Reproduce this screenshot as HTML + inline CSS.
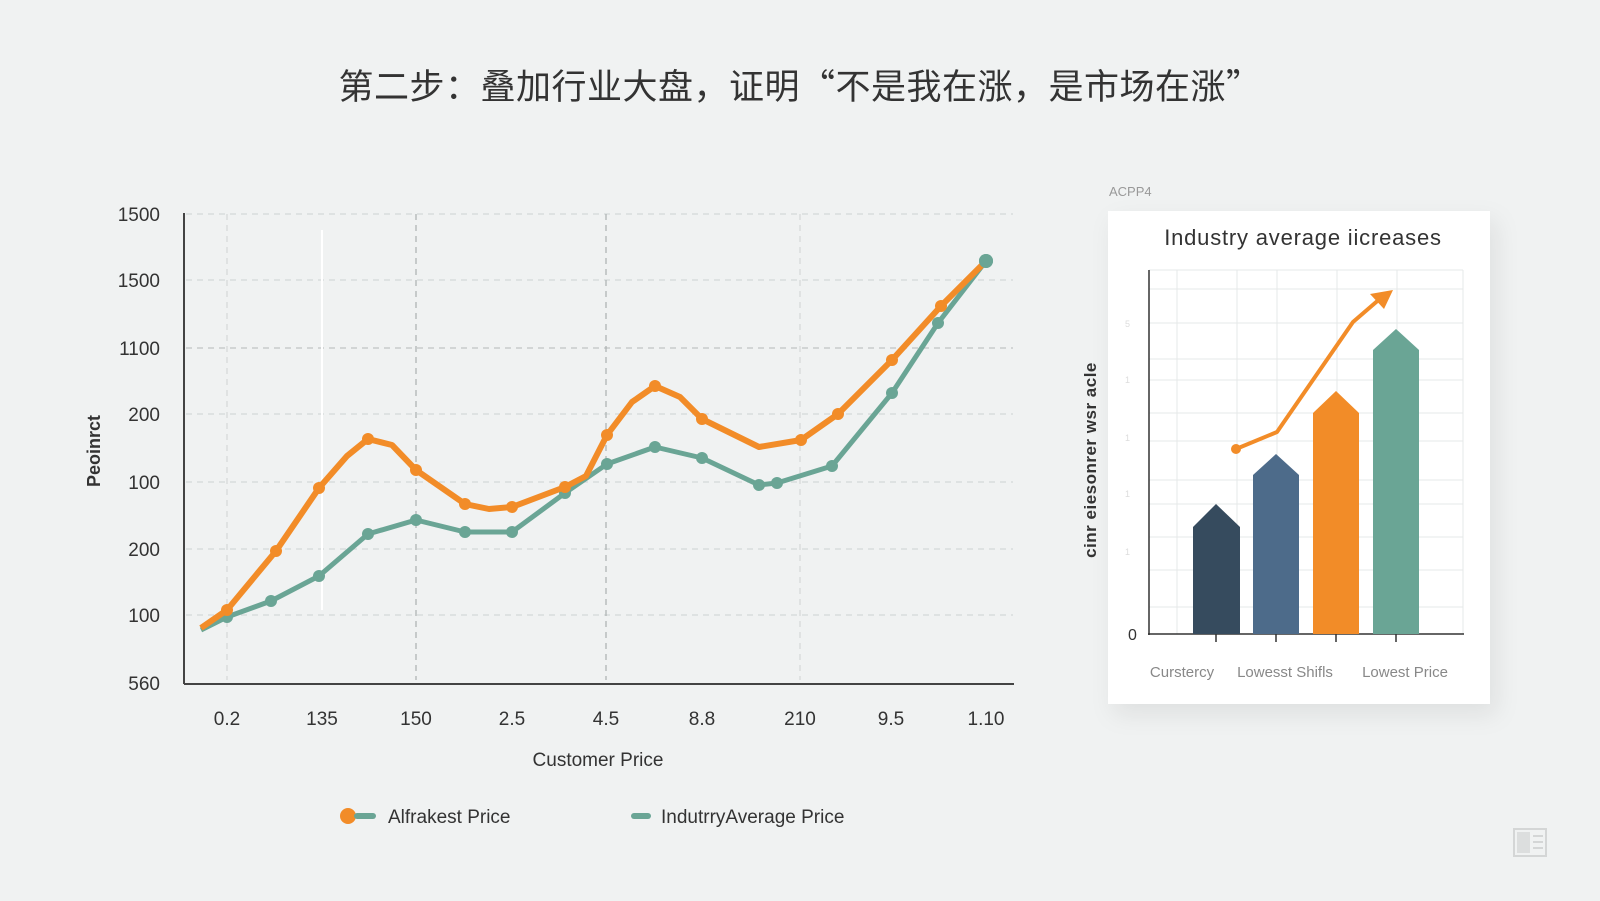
<!DOCTYPE html>
<html><head><meta charset="utf-8"><style>
html,body{margin:0;padding:0;}
body{width:1600px;height:896px;background:#f0f2f2;overflow:hidden;font-family:"Liberation Sans","Noto Sans CJK SC",sans-serif;}
</style></head><body>
<svg width="1600" height="896" viewBox="0 0 1600 896" xmlns="http://www.w3.org/2000/svg" font-family="Liberation Sans, Noto Sans CJK SC, sans-serif">
<defs>
<filter id="sh" x="-20%" y="-20%" width="140%" height="140%"><feDropShadow dx="6" dy="10" stdDeviation="12" flood-color="#000" flood-opacity="0.08"/></filter>
</defs>
<rect width="1600" height="896" fill="#f0f2f2"/>
<text x="800" y="99" text-anchor="middle" font-size="35" fill="#333" letter-spacing="0.5" font-family="Noto Sans CJK SC, sans-serif">第二步：叠加行业大盘，证明“不是我在涨，是市场在涨”</text>

<g stroke="#d4d8d8" stroke-width="1.2" stroke-dasharray="6,5">
<line x1="186" y1="214" x2="1013" y2="214"/>
<line x1="186" y1="280" x2="1013" y2="280"/>
<line x1="186" y1="348" x2="1013" y2="348" stroke="#bfc4c4"/>
<line x1="186" y1="414" x2="1013" y2="414"/>
<line x1="186" y1="482" x2="1013" y2="482"/>
<line x1="186" y1="549" x2="1013" y2="549"/>
<line x1="186" y1="615" x2="1013" y2="615"/>
<line x1="227" y1="214" x2="227" y2="680"/>
<line x1="416" y1="214" x2="416" y2="680" stroke="#aab0b0"/>
<line x1="606" y1="214" x2="606" y2="680" stroke="#aab0b0"/>
<line x1="800" y1="214" x2="800" y2="680"/>
</g>
<line x1="322" y1="230" x2="322" y2="610" stroke="#fff" stroke-width="2"/>
<line x1="184" y1="213" x2="184" y2="684" stroke="#444" stroke-width="2"/>
<line x1="184" y1="684" x2="1014" y2="684" stroke="#444" stroke-width="2"/>
<g font-size="19" fill="#333" text-anchor="end">
<text x="160" y="221">1500</text><text x="160" y="287">1500</text><text x="160" y="355">1100</text>
<text x="160" y="421">200</text><text x="160" y="489">100</text><text x="160" y="556">200</text>
<text x="160" y="622">100</text><text x="160" y="690">560</text>
</g>
<g font-size="19" fill="#333" text-anchor="middle">
<text x="227" y="725">0.2</text><text x="322" y="725">135</text><text x="416" y="725">150</text>
<text x="512" y="725">2.5</text><text x="606" y="725">4.5</text><text x="702" y="725">8.8</text>
<text x="800" y="725">210</text><text x="891" y="725">9.5</text><text x="986" y="725">1.10</text>
</g>
<text x="598" y="766" text-anchor="middle" font-size="19" fill="#333">Customer Price</text>
<text transform="translate(100,451) rotate(-90)" text-anchor="middle" font-size="18" font-weight="bold" fill="#333">Peoinrct</text>

<polyline fill="none" stroke="#6aa595" stroke-width="5" stroke-linejoin="round" points="201,630 227,617 271,601 319,576 368,534 416,520 465,532 512,532 565,493 607,464 655,447 702,458 759,485 777,483 832,466 892,393 938,323 986,261"/>
<g fill="#6aa595"><circle cx="227" cy="617" r="6"/><circle cx="271" cy="601" r="6"/><circle cx="319" cy="576" r="6"/><circle cx="368" cy="534" r="6"/><circle cx="416" cy="520" r="6"/><circle cx="465" cy="532" r="6"/><circle cx="512" cy="532" r="6"/><circle cx="565" cy="493" r="6"/><circle cx="607" cy="464" r="6"/><circle cx="655" cy="447" r="6"/><circle cx="702" cy="458" r="6"/><circle cx="759" cy="485" r="6"/><circle cx="777" cy="483" r="6"/><circle cx="832" cy="466" r="6"/><circle cx="892" cy="393" r="6"/><circle cx="938" cy="323" r="6"/><circle cx="986" cy="261" r="7"/></g>
<polyline fill="none" stroke="#f28c28" stroke-width="6" stroke-linejoin="round" points="201,628 227,610 276,551 319,488 347,456 368,439 392,445 416,470 465,504 489,509 512,507 565,487 586,476 607,435 632,402 655,386 680,397 702,419 759,447 801,440 838,414 892,360 941,306 986,261"/>
<g fill="#f28c28"><circle cx="227" cy="610" r="6"/><circle cx="276" cy="551" r="6"/><circle cx="319" cy="488" r="6"/><circle cx="368" cy="439" r="6"/><circle cx="416" cy="470" r="6"/><circle cx="465" cy="504" r="6"/><circle cx="512" cy="507" r="6"/><circle cx="565" cy="487" r="6"/><circle cx="607" cy="435" r="6"/><circle cx="655" cy="386" r="6"/><circle cx="702" cy="419" r="6"/><circle cx="801" cy="440" r="6"/><circle cx="838" cy="414" r="6"/><circle cx="892" cy="360" r="6"/><circle cx="941" cy="306" r="6"/></g>
<circle cx="986" cy="261" r="7" fill="#6aa595"/>

<circle cx="348" cy="816" r="8" fill="#f28c28"/>
<rect x="354" y="813" width="22" height="6" rx="3" fill="#6aa595"/>
<text x="388" y="823" font-size="19" fill="#333">Alfrakest Price</text>
<rect x="631" y="813" width="20" height="6" rx="3" fill="#6aa595"/>
<text x="661" y="823" font-size="19" fill="#333">IndutrryAverage Price</text>

<text x="1109" y="196" font-size="13" fill="#999">ACPP4</text>
<rect x="1108" y="211" width="382" height="493" fill="#fff" filter="url(#sh)"/>
<text x="1303" y="245" text-anchor="middle" font-size="22" fill="#333" letter-spacing="0.8">Industry average iicreases</text>
<g stroke="#e6e8e8" stroke-width="1">
<line x1="1149" y1="289" x2="1463" y2="289"/><line x1="1149" y1="323" x2="1463" y2="323"/><line x1="1149" y1="359" x2="1463" y2="359"/><line x1="1149" y1="380" x2="1463" y2="380"/><line x1="1149" y1="413" x2="1463" y2="413"/><line x1="1149" y1="441" x2="1463" y2="441"/><line x1="1149" y1="480" x2="1463" y2="480"/><line x1="1149" y1="504" x2="1463" y2="504"/><line x1="1149" y1="537" x2="1463" y2="537"/><line x1="1149" y1="570" x2="1463" y2="570"/><line x1="1149" y1="607" x2="1463" y2="607"/>
<line x1="1149" y1="270" x2="1463" y2="270"/>
<line x1="1177" y1="270" x2="1177" y2="634"/><line x1="1237" y1="270" x2="1237" y2="634"/><line x1="1277" y1="270" x2="1277" y2="634"/><line x1="1337" y1="270" x2="1337" y2="634"/><line x1="1397" y1="270" x2="1397" y2="634"/><line x1="1463" y1="270" x2="1463" y2="634"/>
</g>
<line x1="1149" y1="270" x2="1149" y2="635" stroke="#333" stroke-width="1.5"/>
<line x1="1148" y1="634" x2="1464" y2="634" stroke="#333" stroke-width="1.5"/>
<g fill="#ddd" font-size="9"><text x="1125" y="327">5</text><text x="1125" y="383">1</text><text x="1125" y="441">1</text><text x="1125" y="497">1</text><text x="1125" y="555">1</text></g>
<polygon points="1193,634 1193,527 1216,504 1240,527 1240,634" fill="#364b5e"/>
<polygon points="1253,634 1253,475 1276,454 1299,475 1299,634" fill="#4d6b8a"/>
<polygon points="1313,634 1313,413 1336,391 1359,413 1359,634" fill="#f28c28"/>
<polygon points="1373,634 1373,350 1396,329 1419,350 1419,634" fill="#6aa595"/>
<g stroke="#333" stroke-width="1.5"><line x1="1216" y1="634" x2="1216" y2="642"/><line x1="1276" y1="634" x2="1276" y2="642"/><line x1="1336" y1="634" x2="1336" y2="642"/><line x1="1396" y1="634" x2="1396" y2="642"/></g>
<polyline fill="none" stroke="#f28c28" stroke-width="4" stroke-linecap="round" stroke-linejoin="round" points="1236,449 1277,432 1353,322 1382,297"/>
<circle cx="1236" cy="449" r="5" fill="#f28c28"/>
<polygon points="1393,290 1370,294 1384,309" fill="#f28c28"/>
<text x="1128" y="640" font-size="16" fill="#333">0</text>
<g font-size="15" fill="#888" text-anchor="middle"><text x="1182" y="677">Curstercy</text><text x="1285" y="677">Lowesst Shifls</text><text x="1405" y="677">Lowest Price</text></g>
<text transform="translate(1096,460) rotate(-90)" text-anchor="middle" font-size="17" fill="#333" font-weight="bold" letter-spacing="0.5">cinr eiesonrer wsr acle</text>

<rect x="1514" y="829" width="32" height="27" fill="none" stroke="#d4d6d6" stroke-width="2"/>
<rect x="1517" y="832" width="13" height="21" fill="#dcdede"/>
<g stroke="#d4d6d6" stroke-width="2"><line x1="1533" y1="836" x2="1543" y2="836"/><line x1="1533" y1="842" x2="1543" y2="842"/><line x1="1533" y1="848" x2="1543" y2="848"/></g>
</svg>
</body></html>
